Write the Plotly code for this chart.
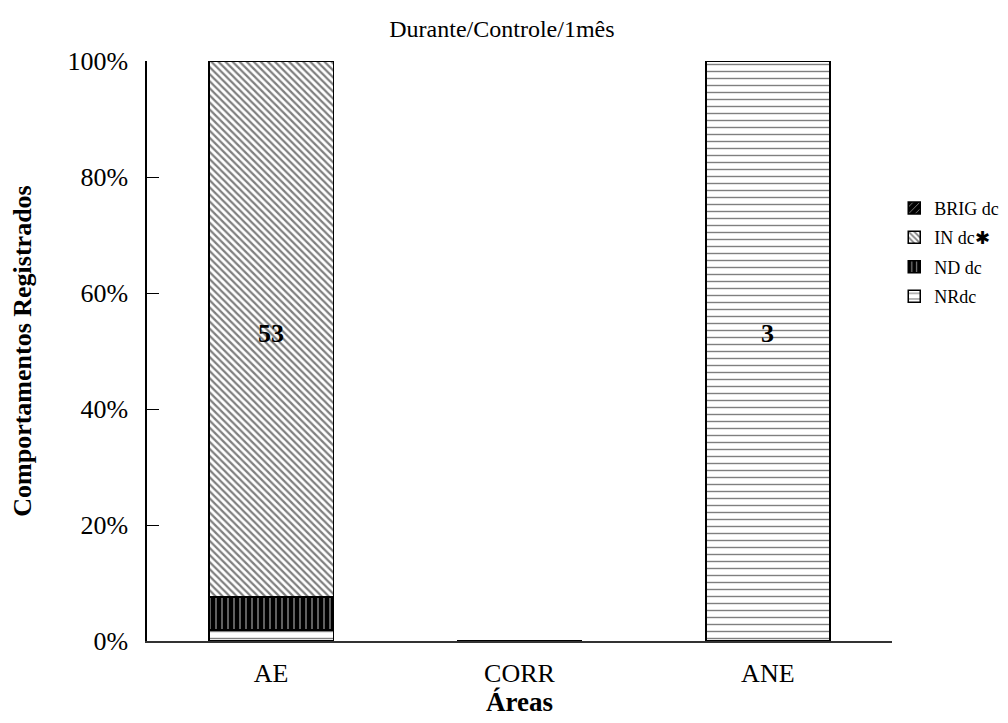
import plotly.graph_objects as go

categories = ["AE", "CORR", "ANE"]
nr_dc = [1, 0, 3]
nd_dc = [3, 0, 0]
in_dc = [49, 0, 0]
brig_dc = [0, 0, 0]
y_ticks = [0, 20, 40, 60, 80, 100]
y_tick_labels = ["0%", "20%", "40%", "60%", "80%", "100%"]
label_level = 53

totals = [a + b + c + d for a, b, c, d in zip(nr_dc, nd_dc, in_dc, brig_dc)]


def pct(vals):
    return [v / t * 100 if t else 0 for v, t in zip(vals, totals)]


FONT = "Liberation Serif, Times New Roman, serif"

series = [
    ("NRdc", nr_dc, dict(shape="-", fgcolor="black", bgcolor="white", size=7, solidity=0.2)),
    ("ND dc", nd_dc, dict(shape="|", fgcolor="white", bgcolor="black", size=6, solidity=0.25)),
    ("IN dc\u2731", in_dc, dict(shape="\\", fgcolor="black", bgcolor="white", size=5, solidity=0.45)),
    ("BRIG dc", brig_dc, dict(shape="/", fgcolor="white", bgcolor="black", size=6, solidity=0.2)),
]

fig = go.Figure()
for i, (name, vals, pat) in enumerate(series):
    fig.add_trace(go.Bar(
        x=categories, y=pct(vals), name=name, legendgroup=name,
        legendrank=len(series) - i,
        marker=dict(color="white", line=dict(color="black", width=1.5), pattern=pat),
        width=0.5,
    ))

for cat, t in zip(categories, totals):
    if t:
        fig.add_annotation(x=cat, y=label_level, text=f"<b>{t}</b>", showarrow=False,
                           font=dict(family=FONT, size=26, color="black"))

fig.add_annotation(x=0.5, xref="paper", y=-0.105, yref="paper", yanchor="middle",
                   text="<b>Áreas</b>", showarrow=False,
                   font=dict(family=FONT, size=27, color="black"))

fig.update_layout(
    barmode="stack",
    width=1008, height=723,
    paper_bgcolor="white", plot_bgcolor="white",
    margin=dict(l=139, r=122, t=53, b=90),
    font=dict(family=FONT, color="black"),
    title=dict(text="Durante/Controle/1mês", x=0.49, xref="container", y=0.972,
               yref="container", xanchor="center", yanchor="middle",
               font=dict(family=FONT, size=24, color="black")),
    legend=dict(x=1.003, y=0.778, xanchor="left", yanchor="top",
                traceorder="grouped", font=dict(family=FONT, size=18, color="black"),
                itemwidth=30, tracegroupgap=3, bgcolor="rgba(0,0,0,0)"),
    xaxis=dict(showline=True, linecolor="#333", linewidth=2, ticks="",
               tickfont=dict(family=FONT, size=26, color="black"), ticklabelstandoff=8,
               showgrid=False),
    yaxis=dict(range=[0, 100], tickvals=y_ticks, ticktext=y_tick_labels,
               showline=True, linecolor="black", linewidth=1.5, ticks="inside",
               ticklen=12, tickcolor="black", tickwidth=1, showgrid=False, zeroline=False,
               tickfont=dict(family=FONT, size=26, color="black"), ticklabelstandoff=12,
               title=dict(text="<b>Comportamentos Registrados</b>",
                          font=dict(family=FONT, size=26, color="black"), standoff=29)),
)

fig.write_html("out.html")
